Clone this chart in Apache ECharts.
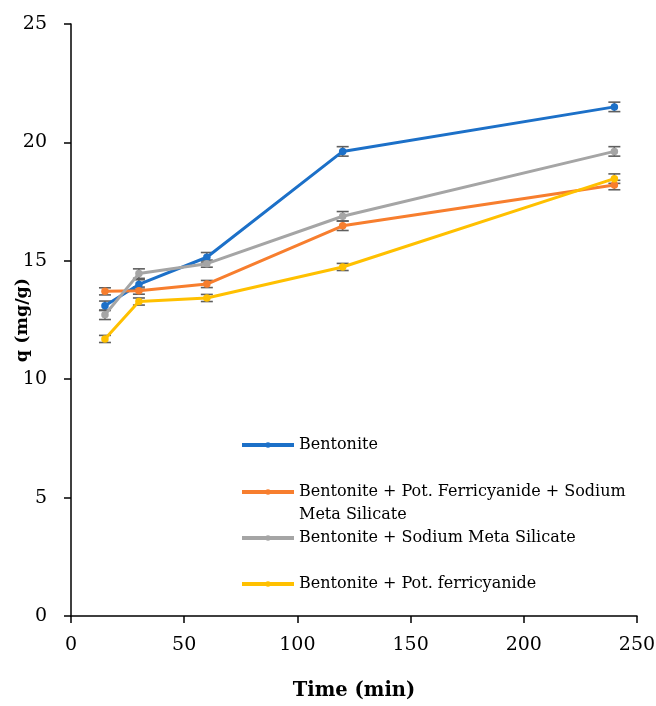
<!DOCTYPE html>
<html><head><meta charset="utf-8">
<script src="https://cdn.jsdelivr.net/npm/echarts@6/dist/echarts.min.js"></script>
<style>html,body{margin:0;padding:0;background:#fff}#c{width:656px;height:706px}</style>
</head><body><div id="c"></div>
<script>
const times = [15, 30, 60, 120, 240];
const seriesNames = [
  'Bentonite',
  'Bentonite + Pot. Ferricyanide + Sodium Meta Silicate',
  'Bentonite + Sodium Meta Silicate',
  'Bentonite + Pot. ferricyanide'
];
const bentonite = [13.1, 14.0, 15.15, 19.62, 21.5];
const bentoniteFerriSilicate = [13.71, 13.74, 14.02, 16.48, 18.2];
const bentoniteSilicate = [12.72, 14.46, 14.88, 16.88, 19.62];
const bentoniteFerri = [11.7, 13.28, 13.43, 14.74, 18.47];
const errBentonite = [0.2, 0.2, 0.2, 0.2, 0.2];
const errFerriSilicate = [0.15, 0.15, 0.15, 0.2, 0.2];
const errSilicate = [0.2, 0.2, 0.15, 0.2, 0.2];
const errFerri = [0.15, 0.15, 0.15, 0.15, 0.2];
const colors = ['#1c70c8', '#f77e2e', '#a5a5a5', '#ffc000'];
const values = [bentonite, bentoniteFerriSilicate, bentoniteSilicate, bentoniteFerri];
const errors = [errBentonite, errFerriSilicate, errSilicate, errFerri];

const FONT = 'DejaVu Serif';
const chart = echarts.init(document.getElementById('c'));

const series = [];
values.forEach((vals, i) => {
  series.push({
    type: 'custom',
    name: 'err' + i,
    z: 1,
    silent: true,
    data: times.map((t, k) => [t, vals[k] - errors[i][k], vals[k] + errors[i][k]]),
    renderItem: function (params, api) {
      const lo = api.coord([api.value(0), api.value(1)]);
      const hi = api.coord([api.value(0), api.value(2)]);
      const w = 6;
      const st = {stroke: '#5f5f5f', lineWidth: 1.6};
      return {type: 'group', children: [
        {type: 'line', shape: {x1: lo[0], y1: lo[1], x2: hi[0], y2: hi[1]}, style: st},
        {type: 'line', shape: {x1: lo[0] - w, y1: lo[1], x2: lo[0] + w, y2: lo[1]}, style: st},
        {type: 'line', shape: {x1: hi[0] - w, y1: hi[1], x2: hi[0] + w, y2: hi[1]}, style: st}
      ]};
    }
  });
});
values.forEach((vals, i) => {
  series.push({
    type: 'line',
    name: seriesNames[i],
    z: 3,
    data: times.map((t, k) => [t, vals[k]]),
    symbol: 'circle',
    symbolSize: 7.5,
    itemStyle: {color: colors[i]},
    lineStyle: {color: colors[i], width: 3},
    emphasis: {disabled: true}
  });
});

const legendTops = [432, 479, 525, 571];
const legends = seriesNames.map((n, i) => ({
  data: [n],
  left: 235,
  top: legendTops[i],
  orient: 'vertical',
  itemWidth: 52,
  itemHeight: 7,
  itemGap: 0,
  selectedMode: false,
  lineStyle: {width: 4},
  formatter: i === 1 ? 'Bentonite + Pot. Ferricyanide + Sodium' : '{name}',
  textStyle: {fontFamily: FONT, fontSize: 16, color: '#000'}
}));

chart.setOption({
  animation: false,
  color: colors,
  grid: {left: 71, right: 19, top: 24, bottom: 90, containLabel: false, outerBoundsMode: 'none'},
  xAxis: {
    type: 'value', min: 0, max: 250, interval: 50,
    name: 'Time (min)', nameLocation: 'middle', nameGap: 65, nameMoveOverlap: false,
    nameTextStyle: {fontFamily: FONT, fontSize: 19.5, fontWeight: 'bold', color: '#000'},
    axisLine: {lineStyle: {color: '#000', width: 1.5}},
    axisTick: {show: true, length: 7, lineStyle: {color: '#000', width: 1.5}},
    axisLabel: {fontFamily: FONT, fontSize: 19, color: '#000', margin: 20},
    splitLine: {show: false}
  },
  yAxis: {
    type: 'value', min: 0, max: 25, interval: 5,
    name: 'q (mg/g)', nameLocation: 'middle', nameGap: 40, nameMoveOverlap: false,
    nameTextStyle: {fontFamily: FONT, fontSize: 17.5, fontWeight: 'bold', color: '#000'},
    axisLine: {show: true, lineStyle: {color: '#000', width: 1.5}},
    axisTick: {show: true, length: 7, lineStyle: {color: '#000', width: 1.5}},
    axisLabel: {fontFamily: FONT, fontSize: 19, color: '#000', margin: 24},
    splitLine: {show: false}
  },
  legend: legends,
  graphic: [{
    type: 'text', left: 299, top: 507,
    style: {text: 'Meta Silicate', font: '16px "DejaVu Serif"', fill: '#000'}
  }],
  series: series
});
</script></body></html>
